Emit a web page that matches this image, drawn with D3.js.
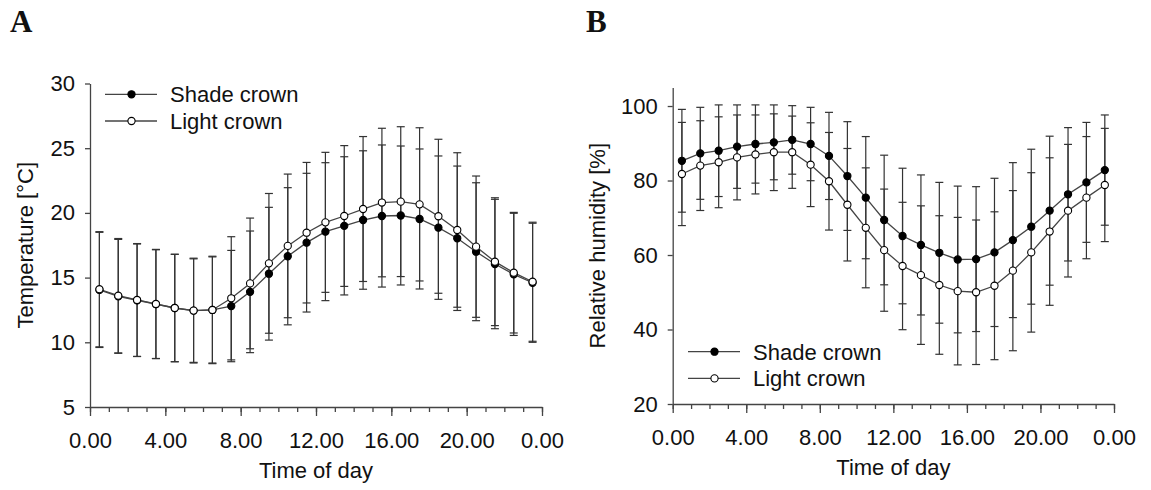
<!DOCTYPE html>
<html>
<head>
<meta charset="utf-8">
<script src="https://cdn.jsdelivr.net/npm/d3@7"></script>
<style>
  body { margin: 0; background: #fff; }
  svg { display: block; }
  text { font-family: "Liberation Sans", Arial, sans-serif; fill: #111; }
  .painel { font-family: "Liberation Serif", "DejaVu Serif", serif; font-weight: bold; }
</style>
</head>
<body>
<svg id="grafico"></svg>
<script>
// horas (meio de cada intervalo) e rótulos do eixo x
const horas = [0.5, 1.5, 2.5, 3.5, 4.5, 5.5, 6.5, 7.5, 8.5, 9.5, 10.5, 11.5,
  12.5, 13.5, 14.5, 15.5, 16.5, 17.5, 18.5, 19.5, 20.5, 21.5, 22.5, 23.5];
const horasTicks = [0, 4, 8, 12, 16, 20, 24];
const horasRotulos = ['0.00', '4.00', '8.00', '12.00', '16.00', '20.00', '0.00'];

// A: temperatura (média e desvio padrão)
const tempSombra = [14.05, 13.55, 13.25, 12.95, 12.65, 12.45, 12.5, 12.8, 13.9, 15.3, 16.65, 17.7,
  18.55, 19.0, 19.45, 19.76, 19.8, 19.53, 18.86, 18.04, 17.0, 16.05, 15.25, 14.6];
const tempLuz = [14.1, 13.6, 13.27, 12.96, 12.65, 12.45, 12.5, 13.4, 14.55, 16.1, 17.45, 18.47,
  19.27, 19.76, 20.3, 20.8, 20.87, 20.66, 19.74, 18.68, 17.39, 16.23, 15.38, 14.68];
const tempSombraDP = [4.45, 4.4, 4.35, 4.2, 4.15, 4.0, 4.1, 4.3, 4.7, 5.13, 5.3, 5.36,
  5.33, 5.34, 5.35, 5.49, 5.37, 5.41, 5.54, 5.58, 5.33, 5.0, 4.72, 4.6];
const tempLuzDP = [4.45, 4.42, 4.36, 4.22, 4.15, 4.05, 4.15, 4.76, 5.05, 5.4, 5.55, 5.43,
  5.41, 5.44, 5.6, 5.74, 5.79, 5.92, 5.95, 5.97, 5.46, 4.94, 4.66, 4.6];
const tempTicks = [5, 10, 15, 20, 25, 30];

// B: umidade relativa
const umidSombra = [85.3, 87.3, 88.0, 89.1, 89.8, 90.25, 90.9, 89.8, 86.6, 81.2, 75.4, 69.4,
  65.1, 62.7, 60.6, 58.8, 58.9, 60.7, 64.0, 67.6, 71.9, 76.3, 79.5, 82.8];
const umidLuz = [81.75, 84.0, 84.9, 86.2, 87.0, 87.6, 87.6, 84.25, 79.8, 73.5, 67.3, 61.3,
  57.05, 54.6, 51.95, 50.3, 50.0, 51.75, 55.8, 60.7, 66.3, 71.9, 75.4, 78.8];
const umidSombraDP = [13.8, 12.35, 12.3, 11.2, 10.5, 10.05, 9.2, 9.85, 11.7, 14.6, 16.4, 17.4,
  18.2, 18.8, 18.9, 19.7, 19.45, 19.9, 20.8, 20.8, 20.0, 17.9, 16.1, 14.8];
const umidLuzDP = [13.85, 12.05, 12.2, 11.4, 10.6, 10.3, 9.7, 11.25, 13.1, 15.1, 16.1, 16.4,
  17.1, 18.6, 18.6, 19.8, 19.4, 19.85, 21.5, 21.4, 19.8, 17.8, 16.4, 15.2];
const umidTicks = [20, 40, 60, 80, 100];

const series = ['Shade crown', 'Light crown'];

const svg = d3.select('#grafico').attr('width', 1151).attr('height', 490);
svg.append('rect').attr('width', 1151).attr('height', 490).attr('fill', '#fff');

function painel(p) {
  const g = svg.append('g');
  const fnX = d3.scaleLinear().domain([0, 24]).range([p.x0, p.x1]);
  const fnY = d3.scaleLinear().domain(p.dominio).range([p.y0, p.y1]);

  // eixo x: ticks menores a cada hora, maiores a cada 4 h
  g.append('g')
    .attr('transform', `translate(0,${p.y0})`)
    .call(d3.axisBottom(fnX).tickValues(d3.range(0, 25, 1)).tickSize(5).tickSizeOuter(0).tickFormat(''))
    .call(e => e.select('.domain').remove());
  g.append('g')
    .attr('transform', `translate(0,${p.y0})`)
    .call(d3.axisBottom(fnX).tickValues(horasTicks).tickSize(9).tickSizeOuter(0).tickPadding(16)
      .tickFormat((d, i) => horasRotulos[i]));

  g.append('g')
    .attr('transform', `translate(${p.x0},0)`)
    .call(d3.axisLeft(fnY).tickValues(p.ticks).tickSize(5).tickSizeOuter(0).tickPadding(10));

  g.selectAll('.domain, .tick line').attr('stroke', '#444').attr('stroke-width', 1.3);
  g.selectAll('.tick text').style('font-size', '22px').attr('fill', '#111');

  // títulos dos eixos
  g.append('text').attr('x', (p.x0 + p.x1) / 2).attr('y', p.y0 + 71)
    .attr('text-anchor', 'middle').style('font-size', '22px').text('Time of day');
  g.append('text')
    .attr('transform', `translate(${p.tituloX},${(p.y0 + p.y1) / 2}) rotate(-90)`)
    .attr('text-anchor', 'middle').style('font-size', '22px').text(p.tituloY);

  // letra do painel
  svg.append('text').classed('painel', true).attr('x', p.letraX).attr('y', 32)
    .style('font-size', '31px').text(p.letra);

  const dados = [
    { medias: p.sombra, dp: p.sombraDP, cheio: true },
    { medias: p.luz, dp: p.luzDP, cheio: false }
  ];

  // barras de erro
  dados.forEach(s => {
    const barras = g.append('g').attr('stroke', '#333').attr('stroke-width', 1.2);
    horas.forEach((h, i) => {
      const cx = fnX(h);
      const cima = fnY(s.medias[i] + s.dp[i]);
      const baixo = fnY(s.medias[i] - s.dp[i]);
      barras.append('line').attr('x1', cx).attr('x2', cx).attr('y1', cima).attr('y2', baixo);
      barras.append('line').attr('x1', cx - 4).attr('x2', cx + 4).attr('y1', cima).attr('y2', cima);
      barras.append('line').attr('x1', cx - 4).attr('x2', cx + 4).attr('y1', baixo).attr('y2', baixo);
    });
  });

  const linha = d3.line().x((d, i) => fnX(horas[i])).y(d => fnY(d));
  dados.forEach(s => {
    g.append('path').datum(s.medias).attr('d', linha)
      .attr('fill', 'none').attr('stroke', '#444').attr('stroke-width', 1.3);
  });
  dados.forEach(s => {
    g.selectAll(null).data(s.medias).enter().append('circle')
      .attr('cx', (d, i) => fnX(horas[i])).attr('cy', d => fnY(d)).attr('r', 3.6)
      .attr('fill', s.cheio ? '#000' : '#fff').attr('stroke', '#000').attr('stroke-width', 1.1);
  });

  // legenda
  dados.forEach((s, i) => {
    const ly = p.legY + i * 26.7;
    g.append('line').attr('x1', p.legX).attr('x2', p.legX + 52).attr('y1', ly).attr('y2', ly)
      .attr('stroke', '#444').attr('stroke-width', 1.3);
    g.append('circle').attr('cx', p.legX + 26.5).attr('cy', ly).attr('r', 3.6)
      .attr('fill', s.cheio ? '#000' : '#fff').attr('stroke', '#000').attr('stroke-width', 1.1);
    g.append('text').attr('x', p.legX + 65).attr('y', ly + 8).style('font-size', '22px').text(series[i]);
  });
}

painel({
  letra: 'A', letraX: 10,
  x0: 90, x1: 542, y0: 407, y1: 83.5, dominio: [5, 30], ticks: tempTicks,
  tituloX: 33, tituloY: 'Temperature [°C]',
  sombra: tempSombra, sombraDP: tempSombraDP, luz: tempLuz, luzDP: tempLuzDP,
  legX: 105, legY: 94.3
});

painel({
  letra: 'B', letraX: 586,
  x0: 672.7, x1: 1114, y0: 404, y1: 87.4, dominio: [20, 105], ticks: umidTicks,
  tituloX: 605, tituloY: 'Relative humidity [%]',
  sombra: umidSombra, sombraDP: umidSombraDP, luz: umidLuz, luzDP: umidLuzDP,
  legX: 688, legY: 351.7
});
</script>
</body>
</html>
